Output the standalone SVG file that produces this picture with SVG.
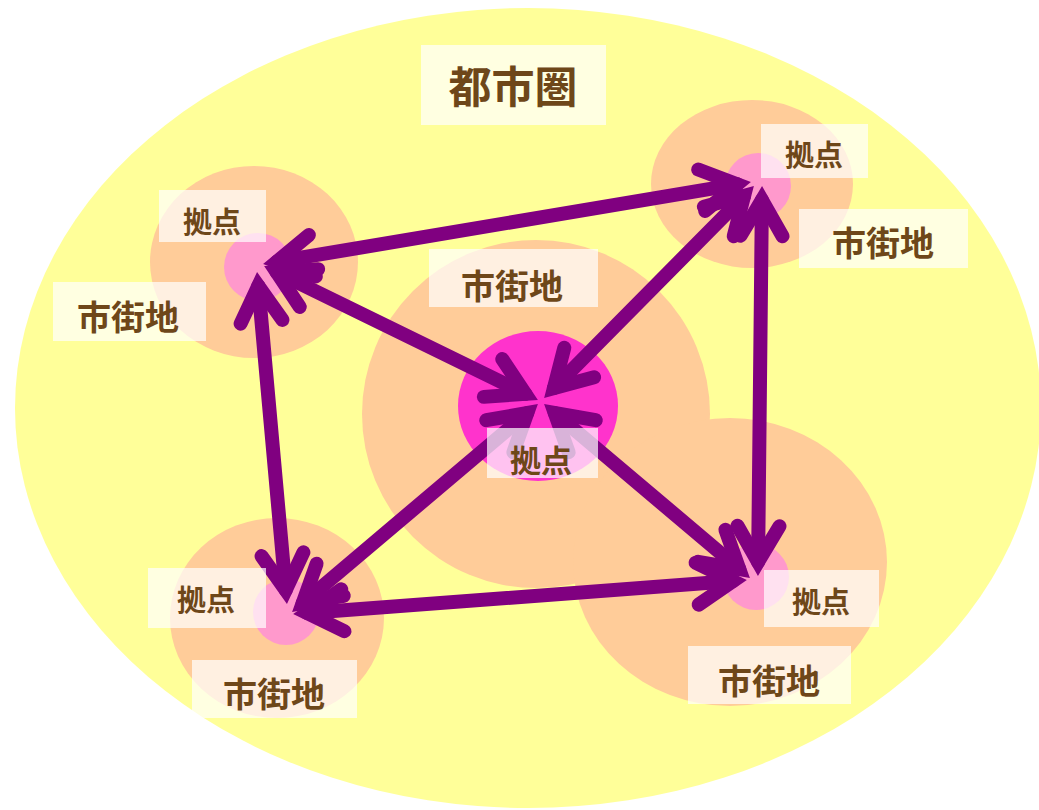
<svg xmlns="http://www.w3.org/2000/svg" width="1039" height="810" viewBox="0 0 1039 810">
  <style>
    .metro { fill: #FFFF99; }
    .area { fill: #FFCC99; }
    .hub { fill: #FF99CC; }
    .hub-main { fill: #FF33CC; }
    .lbl-bg { fill: #FFFFFF; fill-opacity: 0.7; }
    .lbl { font-family: "Noto Sans CJK JP", "Noto Sans", sans-serif; font-weight: bold; fill: #6E4719; text-anchor: middle; dominant-baseline: central; }
    .conn { fill: none; stroke: #800080; stroke-width: 14; stroke-linecap: round; marker-start: url(#ah); marker-end: url(#ah); }
  </style>
  <defs>
    <marker id="ah" markerUnits="userSpaceOnUse" orient="auto-start-reverse" viewBox="-60 -60 120 120" refX="0" refY="0" markerWidth="120" markerHeight="120" overflow="visible">
      <path d="M-36,-21 L0,0 L-36,21" fill="none" stroke="#800080" stroke-width="14" stroke-linecap="round" stroke-linejoin="miter" stroke-miterlimit="6"/>
    </marker>
  </defs>

  <g id="metro-area">
    <ellipse class="metro" cx="528" cy="408" rx="513" ry="400"/>
  </g>

  <g id="area-center"><circle class="area" cx="536" cy="414" r="174"/></g>
  <g id="area-br"><ellipse class="area" cx="730" cy="562" rx="157" ry="144"/></g>
  <g id="area-tl"><ellipse class="area" cx="254" cy="262" rx="104" ry="96"/></g>
  <g id="area-tr"><ellipse class="area" cx="752" cy="184" rx="101" ry="84"/></g>
  <g id="area-bl"><ellipse class="area" cx="277" cy="618" rx="107" ry="100"/></g>

  <g id="hub-center"><ellipse class="hub-main" cx="538" cy="406" rx="80" ry="75"/></g>
  <g id="hub-tl"><circle class="hub" cx="258" cy="267" r="34"/></g>
  <g id="hub-tr"><circle class="hub" cx="758" cy="186" r="33"/></g>
  <g id="hub-bl"><circle class="hub" cx="286" cy="612" r="33"/></g>
  <g id="hub-br"><circle class="hub" cx="756" cy="577" r="33"/></g>

  <g id="connectors">
    <path class="conn" d="M276.8,261.7 L737.2,184.3"/>
    <path class="conn" d="M276.6,272.2 L525.4,393.8"/>
    <path class="conn" d="M258.3,285.9 L285.7,590.1"/>
    <path class="conn" d="M744.1,195.9 L553.9,388.1"/>
    <path class="conn" d="M761.9,200.0 L758.1,562.0"/>
    <path class="conn" d="M527.3,413.0 L302.7,603.0"/>
    <path class="conn" d="M554.7,413.0 L739.3,569.0"/>
    <path class="conn" d="M307.0,613.0 L733.0,581.0"/>
  </g>

  <g id="label-metro">
    <rect class="lbl-bg" x="421" y="45" width="185" height="80"/>
    <text class="lbl" x="513" y="84" font-size="43">都市圏</text>
  </g>
  <g id="label-area-tl">
    <rect class="lbl-bg" x="53" y="282" width="153" height="59"/>
    <text class="lbl" x="128" y="315" font-size="34">市街地</text>
  </g>
  <g id="label-area-center">
    <rect class="lbl-bg" x="429" y="249" width="169" height="58"/>
    <text class="lbl" x="512" y="284" font-size="34">市街地</text>
  </g>
  <g id="label-area-tr">
    <rect class="lbl-bg" x="799" y="209" width="169" height="59"/>
    <text class="lbl" x="883" y="241" font-size="34">市街地</text>
  </g>
  <g id="label-area-bl">
    <rect class="lbl-bg" x="192" y="660" width="165" height="58"/>
    <text class="lbl" x="274" y="692" font-size="34">市街地</text>
  </g>
  <g id="label-area-br">
    <rect class="lbl-bg" x="688" y="646" width="163" height="58"/>
    <text class="lbl" x="769" y="679" font-size="34">市街地</text>
  </g>
  <g id="label-hub-tl">
    <rect class="lbl-bg" x="159" y="190" width="107" height="52"/>
    <text class="lbl" x="212" y="220" font-size="29">拠点</text>
  </g>
  <g id="label-hub-tr">
    <rect class="lbl-bg" x="761" y="124" width="107" height="54"/>
    <text class="lbl" x="814" y="153" font-size="29">拠点</text>
  </g>
  <g id="label-hub-center">
    <rect class="lbl-bg" x="487" y="428" width="111" height="50"/>
    <text class="lbl" x="541" y="458" font-size="31">拠点</text>
  </g>
  <g id="label-hub-bl">
    <rect class="lbl-bg" x="148" y="568" width="118" height="60"/>
    <text class="lbl" x="206" y="598" font-size="29">拠点</text>
  </g>
  <g id="label-hub-br">
    <rect class="lbl-bg" x="764" y="570" width="115" height="57"/>
    <text class="lbl" x="821" y="600" font-size="29">拠点</text>
  </g>
</svg>
